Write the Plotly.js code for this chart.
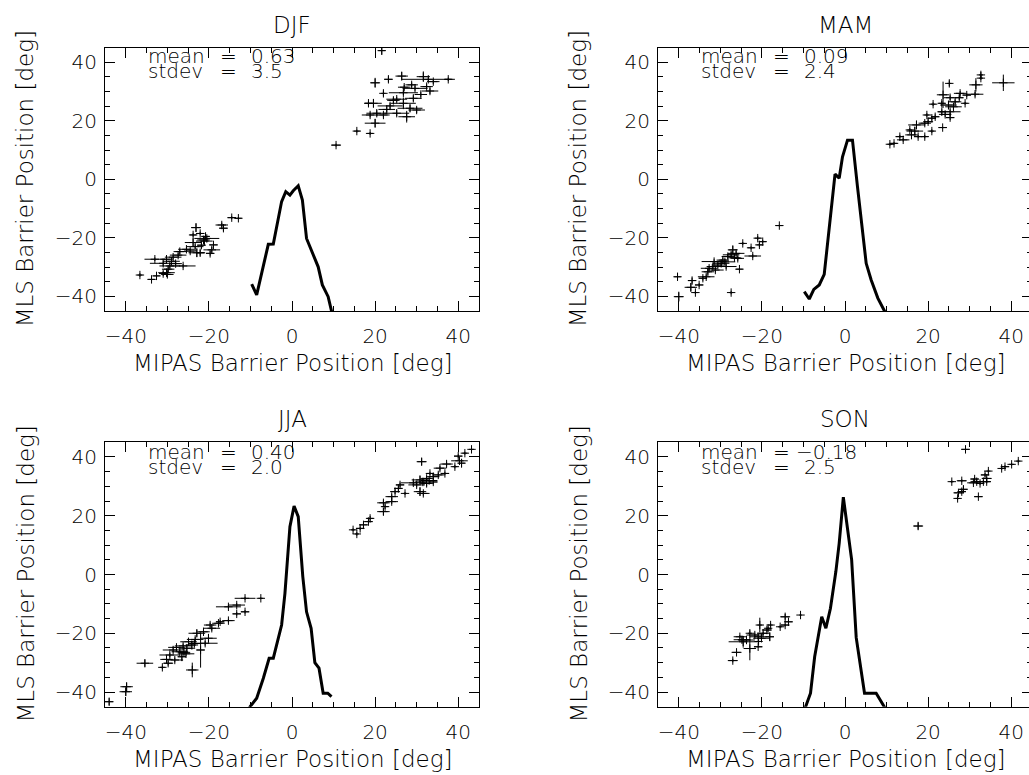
<!DOCTYPE html>
<html>
<head>
<meta charset="utf-8">
<script src="https://cdn.plot.ly/plotly-3.0.1.min.js"></script>
<style>
html,body{margin:0;padding:0;overflow:hidden;background:#fff;}
#chart{width:1036px;height:775px;}
</style>
</head>
<body>
<div id="chart"></div>
<script>
// ---- data ----
const seasons = ['DJF','MAM','JJA','SON'];
const meanVals = [0.63, 0.09, 0.40, -0.18];
const stdevVals = [3.5, 2.4, 2.0, 2.5];
const majorTickVals = [-40,-20,0,20,40];
const allTickVals = [-40,-35,-30,-25,-20,-15,-10,-5,0,5,10,15,20,25,30,35,40];

const djfX = [-36.6,-33.8,-32.6,-30.2,-29.8,-29.4,-31.0,-33.0,-30.2,-28.6,-27.4,-26.2,-27.0,-25.4,-23.3,-23.8,-23.1,-23.8,-22.1,-21.3,-21.1,-20.5,-19.3,-19.7,-22.9,-22.1,-18.9,-16.9,-16.5,-14.5,-12.9,-30.0,-31.0,-29.0,-28.0,-24.5,-21.8,-20.8,
 21.6,20.0,23.2,26.4,31.6,37.6,32.8,28.8,29.6,26.8,33.2,22.0,25.2,29.2,19.6,18.4,26.8,23.6,28.4,22.8,20.4,18.8,25.2,27.6,30.0,20.0,15.6,18.8,10.6,32.4,34.0,22.0,24.4,31.0,27.0];
const djfY = [-32.7,-34.2,-33.0,-31.9,-30.7,-29.6,-28.7,-27.3,-27.3,-26.6,-25.9,-29.6,-24.7,-23.9,-23.0,-21.6,-16.5,-19.0,-18.5,-20.7,-21.1,-20.2,-24.1,-25.3,-25.1,-25.1,-22.4,-15.6,-16.7,-13.1,-13.3,-32.5,-32.2,-28.0,-28.8,-24.5,-22.5,-19.5,
 44.0,33.0,34.2,35.3,35.1,34.2,34.2,32.3,31.1,29.6,30.2,29.4,27.4,27.7,26.0,26.0,26.0,25.1,24.3,23.9,22.6,22.0,22.6,21.4,23.7,19.2,16.5,15.7,11.7,31.7,33.4,22.0,27.0,29.0,31.5];
const djfEX = [0.6,0.8,0.8,2.0,1.5,2.5,3.2,2.5,1.5,2.0,2.0,3.0,1.5,2.0,2.0,2.0,1.2,0.8,1.0,1.5,2.0,3.0,2.0,1.0,2.0,1.0,1.0,1.5,1.0,1.0,0.8,1.5,1.0,2.0,1.5,1.5,1.0,1.0,
 0.8,1.2,1.0,1.5,1.6,0.8,6.4,1.5,3.0,3.5,2.0,0.5,2.5,2.0,2.0,1.0,3.0,3.0,3.0,2.0,2.5,2.0,3.0,2.0,2.0,2.5,0.7,0.7,1.2,1.5,1.5,1.5,1.5,1.5,1.5];
const djfEY = [0.6,0.4,0.6,0.8,1.0,0.8,1.0,0.6,1.2,0.8,0.8,0.6,0.8,0.8,0.8,1.2,1.5,0.6,0.6,1.0,1.2,0.8,1.0,0.8,1.5,1.0,0.6,0.8,1.0,0.5,0.4,1.0,0.8,0.8,0.6,0.8,1.0,0.8,
 1.4,1.7,1.0,1.5,1.8,0.6,0.8,0.8,0.8,0.8,1.0,1.0,0.8,1.0,1.5,0.8,2.0,1.0,1.2,1.0,1.0,0.8,1.0,2.0,1.0,1.5,0.5,0.5,0.5,0.8,0.8,0.8,1.0,0.8,0.8];

const mamX = [-40.0,-40.3,-36.8,-37.1,-36.0,-35.1,-34.2,-33.4,-33.0,-32.7,-31.8,-31.5,-30.6,-29.8,-29.4,-28.6,-28.2,-27.4,-27.0,-26.2,-25.8,-25.4,-24.6,-22.6,-22.2,-21.0,-20.6,-19.8,-15.8,-27.4,-31.2,-28.9,-26.6,
 38.1,32.7,32.7,31.5,31.3,29.3,27.7,25.1,23.6,25.3,27.5,28.9,21.2,23.3,24.9,26.1,25.3,24.1,25.3,23.3,21.7,20.9,19.7,20.0,19.2,23.5,20.9,17.2,16.8,15.6,16.0,17.6,19.2,13.2,14.0,11.8,10.8,26.5];
const mamY = [-40.1,-33.3,-34.6,-36.9,-38.7,-36.1,-33.8,-33.3,-31.6,-30.4,-29.8,-28.1,-29.3,-28.7,-27.6,-29.8,-26.4,-25.8,-24.1,-25.3,-27.0,-30.7,-21.9,-23.4,-26.2,-20.1,-22.4,-21.3,-15.8,-38.7,-31.0,-28.2,-26.8,
 33.0,35.7,34.6,32.3,29.1,28.8,29.4,32.8,28.9,27.9,27.9,26.0,25.7,26.0,25.4,24.8,23.1,22.2,21.1,23.1,21.4,20.9,22.0,19.7,19.2,17.7,16.5,18.6,16.5,16.9,15.2,14.6,14.6,14.6,13.5,12.3,12.0,26.5];
const mamEX = [1.2,0.8,1.0,1.5,0.5,1.0,1.0,2.0,1.5,2.0,1.5,3.0,1.5,2.0,1.5,2.5,1.5,2.0,1.2,2.0,1.5,0.8,0.6,0.8,2.0,0.7,0.7,0.8,0.8,0.5,2.0,2.5,1.5,
 2.7,0.5,0.5,1.6,2.0,1.0,1.5,0.5,1.5,1.5,1.0,0.6,0.6,0.8,2.0,2.0,2.5,1.5,1.0,1.0,1.0,1.0,0.6,1.2,1.5,1.0,0.6,2.0,2.0,0.6,1.5,1.0,0.8,1.0,1.5,0.8,0.6,1.5];
const mamEY = [1.7,1.2,1.0,1.5,0.5,0.6,0.8,0.8,1.0,0.8,0.8,0.8,0.8,1.0,0.8,0.8,0.8,1.0,1.5,0.8,0.8,0.3,0.5,0.5,0.6,0.7,0.8,0.6,0.3,0.6,0.8,1.0,0.8,
 2.8,1.0,0.6,2.3,0.8,0.6,0.8,1.0,4.5,0.8,0.8,0.5,0.6,0.8,1.5,1.0,0.8,0.8,0.8,0.8,0.8,0.8,0.6,0.8,0.8,0.3,0.6,1.5,1.5,0.6,1.5,0.6,0.6,0.6,0.6,0.5,0.5,0.8];

const jjaX = [-44.0,-39.8,-40.0,-35.4,-31.2,-30.2,-29.8,-29.4,-28.2,-28.6,-27.8,-27.0,-26.5,-26.2,-25.3,-24.9,-24.1,-24.0,-23.3,-22.9,-22.0,-20.9,-20.1,-21.3,-19.7,-19.3,-17.7,-17.3,-15.3,-13.3,-11.3,-15.3,-13.3,-11.3,-7.5,-26.0,-23.5,-25.5,
 43.2,41.6,40.0,40.3,40.8,39.2,37.2,35.6,31.2,36.8,35.2,34.0,33.2,32.4,30.8,29.2,30.0,32.4,34.0,30.8,31.6,26.0,25.6,24.8,27.2,24.0,24.0,22.0,22.4,22.0,18.8,18.4,17.2,16.4,14.7,15.6,33.0,31.5];
const jjaY = [-43.3,-38.2,-39.9,-30.2,-31.6,-28.9,-30.2,-27.4,-29.1,-25.7,-24.8,-26.3,-28.0,-24.3,-25.1,-22.9,-24.0,-32.5,-22.1,-20.0,-25.7,-23.4,-21.7,-19.5,-17.2,-18.3,-16.6,-16.1,-15.7,-13.4,-12.7,-11.0,-10.4,-8.1,-8.1,-26.5,-23.5,-27.0,
 42.6,41.3,40.3,38.7,37.9,36.7,37.6,36.2,38.4,34.4,33.9,33.3,34.4,32.7,32.2,31.2,30.5,31.0,31.5,28.2,27.6,30.5,29.3,28.2,27.6,26.5,24.8,24.4,23.1,21.4,19.1,18.0,16.9,15.7,15.2,13.8,32.0,31.5];
const jjaEX = [1.0,1.5,1.5,2.0,0.6,1.5,1.2,2.5,2.0,2.5,2.0,2.0,1.0,2.0,2.0,2.0,1.5,1.5,2.0,2.0,1.0,3.0,2.0,1.5,1.5,2.0,1.5,1.0,1.5,1.0,1.0,3.0,2.0,2.5,0.6,1.5,1.5,2.0,
 0.6,0.6,1.0,2.0,0.8,0.6,1.5,1.5,1.2,1.0,1.5,1.5,0.8,1.5,2.0,3.0,2.0,1.5,1.0,1.5,1.5,1.0,1.0,1.2,0.4,1.5,1.5,1.5,0.8,1.5,0.8,1.0,1.0,1.0,0.5,0.5,2.0,2.0];
const jjaEY = [1.2,1.5,1.5,1.2,0.6,0.8,0.8,0.8,0.8,0.8,0.8,0.8,1.5,0.8,1.0,0.8,1.5,2.5,0.8,1.2,6.0,0.8,1.5,0.8,0.8,0.8,0.8,0.6,0.6,0.6,0.6,0.6,0.6,0.5,0.3,1.0,1.0,0.8,
 0.5,0.5,0.6,0.8,1.5,0.6,0.8,0.8,1.2,0.6,0.8,0.8,0.6,0.8,1.5,0.8,0.8,1.0,0.8,1.5,0.8,0.8,0.8,0.8,0.5,0.8,0.8,0.8,0.8,1.2,0.8,0.6,0.8,0.6,0.5,0.6,0.8,0.8];

const sonX = [29.0,41.7,40.1,38.5,37.7,34.5,33.7,34.1,33.3,31.7,30.9,31.2,28.1,25.7,28.5,28.1,27.3,27.1,32.1,17.6,32.5,34.1,
 -27.0,-26.1,-22.9,-24.5,-24.8,-23.7,-20.5,-21.7,-20.9,-20.1,-19.7,-18.8,-18.5,-17.9,-18.1,-20.9,-20.8,-15.6,-14.4,-13.6,-14.4,-10.7,-22.9,-25.3];
const sonY = [42.6,38.6,37.5,36.7,36.1,35.2,33.9,32.7,31.6,31.6,31.2,32.5,31.9,31.6,29.0,28.2,27.8,25.9,26.5,16.5,31.0,31.6,
 -29.3,-26.5,-25.2,-22.9,-22.2,-22.3,-17.2,-20.6,-21.2,-21.7,-20.0,-18.9,-18.3,-17.2,-21.2,-24.6,-22.8,-17.8,-17.2,-16.1,-14.4,-13.8,-20.0,-21.2];
const sonEX = [1.0,0.5,0.6,1.0,0.5,0.5,1.0,1.2,1.5,1.5,1.5,1.0,1.2,0.5,1.0,1.0,1.2,0.5,1.0,1.2,1.0,1.0,
 1.2,1.2,1.5,3.5,2.0,2.0,0.6,2.0,2.0,2.0,1.5,1.2,0.6,0.5,1.0,1.0,0.6,0.5,1.0,1.0,1.2,0.3,0.5,1.5];
const sonEY = [1.0,0.5,0.5,0.5,0.5,0.5,0.6,0.6,0.6,0.8,0.6,0.6,0.5,0.4,1.2,0.6,0.6,0.5,0.3,1.2,0.6,0.6,
 0.6,0.5,4.0,2.0,0.8,0.8,2.5,0.8,0.8,0.8,0.6,0.6,0.6,0.5,1.5,0.3,0.6,0.5,0.5,0.5,1.0,0.3,1.0,0.6];

const djfHistX = [-9.7,-8.5,-5.7,-4.5,-2.5,-1.5,-0.5,0.3,1.5,2.5,3.5,5.1,6.3,7.3,8.7,10.5];
const djfHistY = [-35.8,-39.5,-22.2,-22.1,-7.6,-4.2,-5.4,-3.9,-2.2,-7.1,-20.2,-25.9,-29.9,-36.1,-40.1,-51];
const mamHistX = [-9.8,-8.6,-7.5,-6.2,-5.0,-3.9,-2.4,-1.4,-0.6,0.6,1.8,3.0,4.3,5.1,6.3,7.9,9.5,11.0];
const mamHistY = [-38.4,-40.9,-37.6,-36.1,-32.5,-17.4,1.8,0.4,7.7,13.4,13.4,-2.5,-19.6,-28.7,-34.4,-40.6,-45,-49];
const jjaHistX = [-11.5,-10.1,-8.5,-6.9,-5.5,-4.5,-2.5,-1.7,-0.5,0.5,1.5,2.6,3.5,4.6,5.5,6.5,7.5,8.6,9.5];
const jjaHistY = [-50,-45,-42.1,-35.3,-28.5,-28.5,-17.2,-6.4,16.3,23.3,19.7,-0.7,-12.7,-18.3,-30.0,-31.9,-40.4,-40.4,-41.6];
const sonHistX = [-10.5,-9.5,-8.3,-7.3,-5.6,-4.6,-3.5,-2.2,-1.4,-0.4,1.6,2.7,4.7,7.5,9.5,10.5];
const sonHistY = [-49,-45,-40.4,-28.0,-14.4,-18.3,-11.5,1.0,10.6,26.3,5.0,-21.5,-40.4,-40.4,-45,-47.5];

// ---- build ----
const FONT = 'DejaVu Sans, Liberation Sans, sans-serif';
const WEIGHT = 200;
const W = 1036, H = 775;
const panels = [
  {x: djfX, y: djfY, ex: djfEX, ey: djfEY, hx: djfHistX, hy: djfHistY},
  {x: mamX, y: mamY, ex: mamEX, ey: mamEY, hx: mamHistX, hy: mamHistY},
  {x: jjaX, y: jjaY, ex: jjaEX, ey: jjaEY, hx: jjaHistX, hy: jjaHistY},
  {x: sonX, y: sonY, ex: sonEX, ey: sonEY, hx: sonHistX, hy: sonHistY}
];
// plot-area pixel boxes [left, right, top, bottom]
const boxes = [[105,479,47.7,311],[658,1032,47.7,311],[105,479,442.3,706.7],[658,1032,442.3,706.7]];

const traces = [];
const layout = {
  width: W, height: H, margin: {l:0,r:0,t:0,b:0},
  paper_bgcolor: '#fff', plot_bgcolor: '#fff', showlegend: false,
  font: {family: FONT, color: '#000', weight: WEIGHT},
  annotations: []
};

function fmtTick(v) {
  if (majorTickVals.indexOf(v) < 0) return '';
  return v < 0 ? '\u2212' + Math.abs(v) : String(v);
}

// main axes: short ticks every 5 (labels only at the major values)
function mainAxis(isX, dom, anchor) {
  return {
    domain: dom, anchor: anchor, range: [-45,45], autorange: false,
    tickmode: 'array', tickvals: allTickVals, ticktext: allTickVals.map(fmtTick),
    ticks: 'inside', ticklen: 5, tickwidth: 1, tickcolor: '#000',
    showline: true, linecolor: '#000', linewidth: 1, mirror: 'ticks',
    showgrid: false, zeroline: false,
    tickfont: {family: FONT, size: 20, color: '#000', weight: WEIGHT},
    ticklabelstandoff: isX ? 7 : 3
  };
}
// overlay axes: long ticks at the major values, no labels
function overlayAxis(over, anchor) {
  return {
    overlaying: over, anchor: anchor, range: [-45,45], autorange: false,
    tickmode: 'array', tickvals: majorTickVals,
    ticks: 'inside', ticklen: 10, tickwidth: 1, tickcolor: '#000',
    showline: false, mirror: 'ticks', showticklabels: false,
    showgrid: false, zeroline: false
  };
}

panels.forEach((p, i) => {
  const n = i === 0 ? '' : String(i + 1);
  const k = String(i + 5);
  const xa = 'x' + n, ya = 'y' + n, xo = 'x' + k, yo = 'y' + k;
  const b = boxes[i];
  layout['xaxis' + n] = mainAxis(true, [b[0]/W, b[1]/W], ya);
  layout['yaxis' + n] = mainAxis(false, [1 - b[3]/H, 1 - b[2]/H], xa);
  layout['xaxis' + k] = overlayAxis(xa, yo);
  layout['yaxis' + k] = overlayAxis(ya, xo);
  traces.push({
    type: 'scatter', mode: 'markers', x: p.x, y: p.y, xaxis: xa, yaxis: ya,
    marker: {symbol: 'cross-thin', size: 6, color: '#000', line: {width: 1, color: '#000'}},
    error_x: {type: 'data', array: p.ex, visible: true, color: '#000', thickness: 1, width: 0},
    error_y: {type: 'data', array: p.ey, visible: true, color: '#000', thickness: 1, width: 0},
    hoverinfo: 'skip'
  });
  traces.push({
    type: 'scatter', mode: 'lines', x: p.hx, y: p.hy, xaxis: xo, yaxis: yo,
    line: {color: '#000', width: 3}, hoverinfo: 'skip'
  });
  const cx = (b[0] + b[1]) / 2 / W;
  const top = i < 2;
  const big = {family: FONT, size: 23, color: '#000', weight: WEIGHT};
  layout.annotations.push({xref:'paper', yref:'paper', x: cx, y: 1 - (b[2] - 23) / H,
    text: seasons[i], showarrow: false, xanchor: 'center', yanchor: 'middle', font: big});
  layout.annotations.push({xref:'paper', yref:'paper', x: cx, y: 1 - (b[3] + 52) / H,
    text: 'MIPAS Barrier Position [deg]', showarrow: false, xanchor: 'center', yanchor: 'middle', font: big});
  layout.annotations.push({xref:'paper', yref:'paper', x: (b[0] - 80) / W, y: 1 - (b[2] + b[3]) / 2 / H,
    text: 'MLS Barrier Position [deg]', showarrow: false, textangle: -90, xanchor: 'center', yanchor: 'middle', font: big});
  const yM = top ? 42.3 : 41.8, yS = top ? 37.2 : 36.7;
  const f = {family: FONT, size: 20, color: '#000', weight: WEIGHT};
  const mv = meanVals[i], sv = stdevVals[i];
  const mText = (mv < 0 ? '\u2212' : '') + Math.abs(mv).toFixed(2);
  const rows = [['mean', mText, yM, mv < 0], ['stdev', sv.toFixed(1), yS, false]];
  rows.forEach(r => {
    layout.annotations.push({xref: xa, yref: ya, x: -34.9, y: r[2], text: r[0], showarrow: false, xanchor: 'left', yanchor: 'middle', font: f, borderpad: 0});
    layout.annotations.push({xref: xa, yref: ya, x: -15.3, y: r[2], text: '=', showarrow: false, xanchor: 'center', yanchor: 'middle', font: f, borderpad: 0});
    layout.annotations.push({xref: xa, yref: ya, x: r[3] ? -12.0 : -10.1, y: r[2], text: r[1], showarrow: false, xanchor: 'left', yanchor: 'middle', font: f, borderpad: 0});
  });
});

Plotly.newPlot('chart', traces, layout, {staticPlot: true, displayModeBar: false});
</script>
</body>
</html>
